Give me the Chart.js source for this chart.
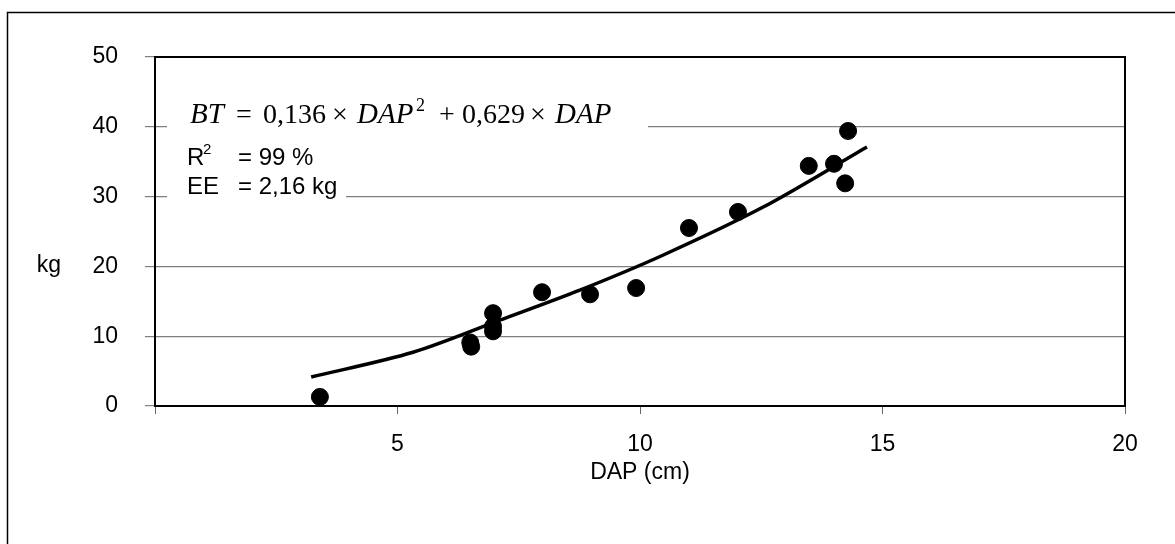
<!DOCTYPE html>
<html>
<head>
<meta charset="utf-8">
<script src="https://cdn.jsdelivr.net/npm/chart.js@4"></script>
<style>
  html, body { margin: 0; padding: 0; background: #fff; }
  canvas { display: block; }
</style>
</head>
<body>
<canvas id="dapChart" width="1175" height="544"></canvas>
<script>
// observed trees: DAP (cm) vs total biomass (kg)
const dapObs = [3.40, 6.50, 6.52, 6.97, 6.97, 6.97, 7.98, 8.97, 9.92, 11.01, 12.02, 13.48, 14.00, 14.23, 14.29];
const kgObs  = [1.3, 9.1, 8.5, 13.3, 11.4, 10.7, 16.3, 16.0, 16.9, 25.5, 27.8, 34.4, 34.7, 31.9, 39.4];

// fitted curve as drawn in the picture
const dapFit = [3.22, 5.32, 7.11, 8.76, 10.47, 12.54, 14.68];
const kgFit  = [4.15, 7.7, 12.3, 16.6, 21.6, 28.5, 37.1];

const xTicks = [0, 5, 10, 15, 20];
const yTicks = [0, 10, 20, 30, 40, 50];

const FONT = 'Liberation Sans, Arial, sans-serif';
const SERIF = 'Liberation Serif, Times New Roman, serif';

const framePlugin = {
    id: 'frame',
    beforeDraw(chart) {
        const ctx = chart.ctx;
        ctx.save();
        ctx.fillStyle = '#fff';
        ctx.fillRect(0, 0, chart.width, chart.height);
        ctx.strokeStyle = '#000';
        ctx.lineWidth = 1.5;
        ctx.strokeRect(7.5, 12.5, 1300, 700);
        ctx.restore();
    },
    beforeDatasetsDraw(chart) {
        const { ctx, chartArea: a } = chart;
        ctx.save();
        // white boxes behind the equation text
        ctx.fillStyle = '#fff';
        ctx.fillRect(167, 88, 481, 46);
        ctx.fillRect(167, 134, 179, 68);
        // plot area border
        ctx.strokeStyle = '#000';
        ctx.lineWidth = 2;
        ctx.strokeRect(a.left, a.top, a.right - a.left, a.bottom - a.top);

        // equation, pieces placed like the equation editor spacing
        ctx.fillStyle = '#000';
        ctx.textBaseline = 'alphabetic';
        ctx.textAlign = 'left';
        const it = 'italic 29px ' + SERIF;
        const up = '28px ' + SERIF;
        const eq = [
            ['BT', it, 190, 123],
            ['=', up, 236, 123],
            ['0,136', up, 263, 123],
            ['\u00d7', up, 332, 123],
            ['DAP', it, 357, 123],
            ['2', '18px ' + SERIF, 416, 111],
            ['+', up, 439, 123],
            ['0,629', up, 462, 123],
            ['\u00d7', up, 530, 123],
            ['DAP', it, 555, 123]
        ];
        eq.forEach(([t, f, x, y]) => {
            ctx.font = f;
            ctx.fillText(t, x, y);
        });

        // R2 and EE
        ctx.font = '24px ' + FONT;
        ctx.fillText('R', 187, 165);
        ctx.fillText('= 99 %', 238, 165);
        ctx.fillText('EE', 187, 194);
        ctx.fillText('= 2,16 kg', 238, 194);
        ctx.font = '15px ' + FONT;
        ctx.fillText('2', 203, 154);

        // y axis title (horizontal)
        ctx.font = '23px ' + FONT;
        ctx.textAlign = 'center';
        ctx.textBaseline = 'middle';
        ctx.fillText('kg', 49, 266);
        ctx.restore();
    }
};

const ctx = document.getElementById('dapChart').getContext('2d');
new Chart(ctx, {
    type: 'scatter',
    data: {
        datasets: [
            {
                label: 'observado',
                data: dapObs.map((d, i) => ({ x: d, y: kgObs[i] })),
                backgroundColor: '#000',
                borderColor: '#000',
                pointRadius: 8.5,
                pointHoverRadius: 8.5,
                order: 0
            },
            {
                label: 'ajuste',
                type: 'line',
                data: dapFit.map((d, i) => ({ x: d, y: kgFit[i] })),
                borderColor: '#000',
                borderWidth: 3.5,
                pointRadius: 0,
                fill: false,
                tension: 0.3,
                order: 1
            }
        ]
    },
    options: {
        responsive: false,
        animation: false,
        events: [],
        layout: { padding: { left: 0, right: 50, top: 57, bottom: 0 } },
        plugins: {
            legend: { display: false },
            tooltip: { enabled: false }
        },
        scales: {
            x: {
                type: 'linear',
                min: 0,
                max: 20,
                afterBuildTicks: axis => { axis.ticks = xTicks.map(v => ({ value: v })); },
                afterFit: axis => { axis.height = 138; },
                ticks: {
                    color: '#000',
                    font: { family: FONT, size: 23 },
                    padding: 17,
                    maxRotation: 0,
                    callback: v => (v === 0 ? '' : v)
                },
                grid: { drawOnChartArea: false, color: '#666', tickLength: 8 },
                border: { color: '#000', width: 2 },
                title: {
                    display: true,
                    text: 'DAP (cm)',
                    color: '#000',
                    font: { family: FONT, size: 23 },
                    padding: { top: 2, bottom: 58 }
                }
            },
            y: {
                min: 0,
                max: 50,
                afterBuildTicks: axis => { axis.ticks = yTicks.map(v => ({ value: v })); },
                afterFit: axis => { axis.width = 155; },
                ticks: {
                    color: '#000',
                    font: { family: FONT, size: 23 },
                    padding: 27
                },
                grid: { color: '#808080', lineWidth: 1.2, tickLength: 10 },
                border: { color: '#000', width: 2 }
            }
        }
    },
    plugins: [framePlugin]
});
</script>
</body>
</html>
